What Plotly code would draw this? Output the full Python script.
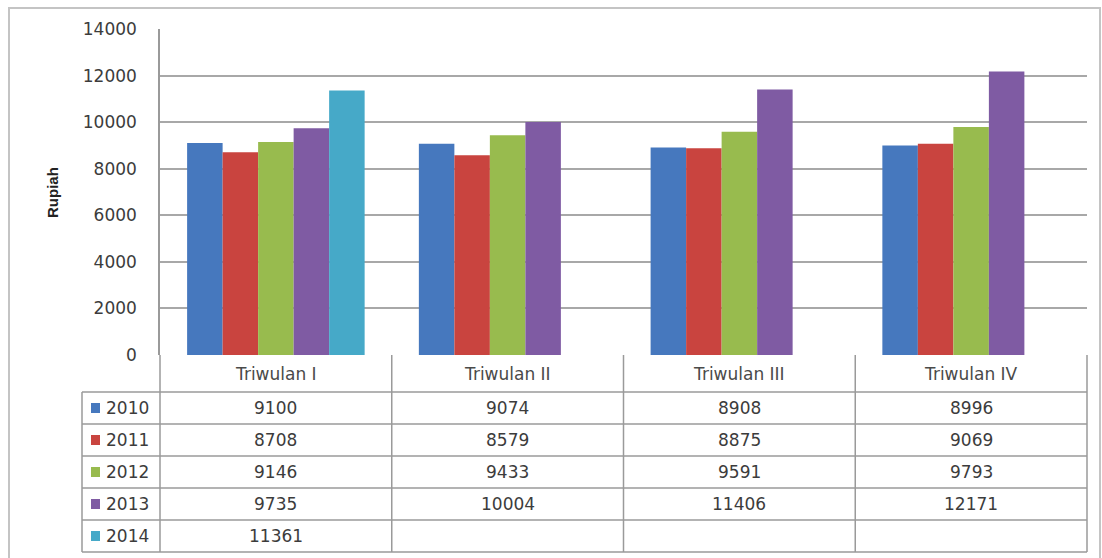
import plotly.graph_objects as go

# Quarterly values (Rupiah) per year
quarters = ["Triwulan I", "Triwulan II", "Triwulan III", "Triwulan IV"]
years = ["2010", "2011", "2012", "2013", "2014"]
v2010 = [9100, 9074, 8908, 8996]
v2011 = [8708, 8579, 8875, 9069]
v2012 = [9146, 9433, 9591, 9793]
v2013 = [9735, 10004, 11406, 12171]
v2014 = [11361, None, None, None]
series = [v2010, v2011, v2012, v2013, v2014]
colors = ["#4678BE", "#C9443F", "#98BB4E", "#7F5BA3", "#46A9C8"]

W, H = 1102, 558
L, R, T, B = 160, 1087, 29, 355  # plot area in pixels

def px(x):
    return (x - L) / (R - L)

def py(y):
    return (B - y) / (B - T)

fig = go.Figure()
for name, vals, col in zip(years, series, colors):
    fig.add_trace(go.Bar(x=quarters, y=vals, name=name, marker_color=col,
                         marker_line_width=0, showlegend=False))

txt_col = "#3c3c3c"
font_txt = dict(family="DejaVu Sans", size=17, color=txt_col)
line_col = "#9a9a9a"

shapes = []
annotations = []

# Data table geometry (pixels)
header_top, header_bot = 355, 392
row_h = (552 - 392) / 5
row_lines = [392 + i * row_h for i in range(6)]
legend_left = 82
col_edges = [L + i * (R - L) / 4 for i in range(5)]

def hline(y, x0, x1):
    shapes.append(dict(type="line", xref="paper", yref="paper",
                       x0=px(x0), x1=px(x1), y0=py(y), y1=py(y),
                       line=dict(color=line_col, width=1.5)))

def vline(x, y0, y1):
    shapes.append(dict(type="line", xref="paper", yref="paper",
                       x0=px(x), x1=px(x), y0=py(y0), y1=py(y1),
                       line=dict(color=line_col, width=1.5)))

for y in row_lines:
    hline(y, legend_left, R)
vline(legend_left, row_lines[0], row_lines[-1])
for x in col_edges:
    vline(x, header_top, row_lines[-1])

# Header labels
for q in quarters:
    annotations.append(dict(x=q, xref="x", y=py((header_top + header_bot) / 2),
                            yref="paper", text=q, showarrow=False,
                            font=dict(family="DejaVu Sans", size=17, color="#4a4a4a"),
                            xanchor="center", yanchor="middle"))

# Rows: legend key + values
for i, (name, vals, col) in enumerate(zip(years, series, colors)):
    yc = (row_lines[i] + row_lines[i + 1]) / 2
    shapes.append(dict(type="rect", xref="paper", yref="paper",
                       x0=px(91), x1=px(100), y0=py(yc + 5), y1=py(yc - 5),
                       fillcolor=col, line=dict(width=0)))
    annotations.append(dict(x=px(104), xref="paper", y=py(yc), yref="paper",
                            text=name, showarrow=False, font=font_txt,
                            xanchor="left", yanchor="middle"))
    for q, v in zip(quarters, vals):
        if v is None:
            continue
        annotations.append(dict(x=q, xref="x", y=py(yc), yref="paper",
                                text=str(v), showarrow=False, font=font_txt,
                                xanchor="center", yanchor="middle"))

# Axis title
annotations.append(dict(x=px(52), xref="paper", y=py(193), yref="paper",
                        text="<b>Rupiah</b>", textangle=-90, showarrow=False,
                        font=dict(family="Liberation Sans", size=15, color="#222222"),
                        xanchor="center", yanchor="middle"))

# Outer chart frame
shapes.append(dict(type="rect", xref="paper", yref="paper",
                   x0=px(9), x1=px(1100), y0=py(8), y1=py(575),
                   line=dict(color="#c4c4c4", width=2), fillcolor="rgba(0,0,0,0)"))

fig.update_layout(
    width=W, height=H,
    margin=dict(l=L, r=W - R, t=T, b=H - B, pad=0),
    paper_bgcolor="white", plot_bgcolor="white",
    barmode="group", bargap=0.234, bargroupgap=0,
    shapes=shapes, annotations=annotations,
    xaxis=dict(showticklabels=False, showgrid=False, zeroline=False,
               showline=False, ticks=""),
    yaxis=dict(range=[0, 14000], dtick=2000, tickformat="d", showgrid=True,
               gridcolor="#a8a8a8", gridwidth=1.5, zeroline=False, showline=True,
               linecolor=line_col, linewidth=1.5, ticks="", ticklabelstandoff=18,
               tickfont=dict(family="DejaVu Sans", size=17, color=txt_col)),
)

fig.write_html("out.html")
